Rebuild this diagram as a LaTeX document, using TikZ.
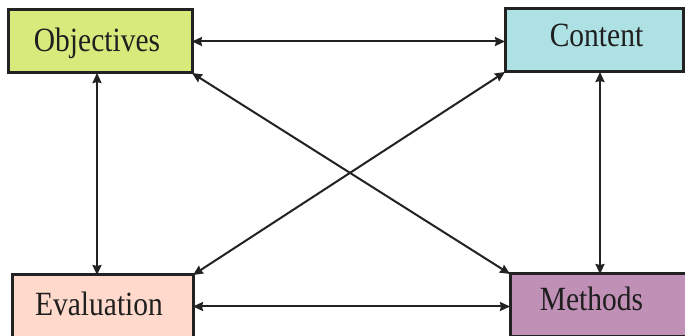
\documentclass[tikz,border=0pt]{standalone}
\usepackage{fontspec}
\setmainfont{Liberation Serif}
\usetikzlibrary{arrows.meta}
\definecolor{cObj}{HTML}{D9EA7C}
\definecolor{cCon}{HTML}{AEE1E3}
\definecolor{cEva}{HTML}{FFDACC}
\definecolor{cMet}{HTML}{C190B7}
\definecolor{cLine}{HTML}{222222}
\tikzset{
  box/.style={draw=cLine, line width=3pt, inner sep=0pt, outer sep=0pt, minimum height=63pt},
  lbl/.style={anchor=base, inner sep=0pt, text=black!88, font=\fontsize{29.5}{30}\selectfont},
  arr/.style={draw=cLine, line width=2pt, {Stealth[length=10pt,width=9pt,inset=1pt]}-{Stealth[length=10pt,width=9pt,inset=1pt]}}
}
\newcommand{\mylbl}[1]{\scalebox{1}[1.15]{#1}}
\begin{document}
\begin{tikzpicture}[x=1pt,y=-1pt]
\fill[white] (0,0) rectangle (685,336);
\clip (0,0) rectangle (685,336);
\node[box, fill=cObj, minimum width=184pt] (obj) at (100,41.5) {};
\node[box, fill=cCon, minimum width=178pt] (con) at (594,40.5) {};
\node[box, fill=cEva, minimum width=181pt] (eva) at (102.5,306.5) {};
\node[box, fill=cMet, minimum width=180pt] (met) at (600,305.5) {};
\node[lbl] (tobj) at (97,52) {\mylbl{Objectives}};
\node[lbl] (tcon) at (596.5,47) {\mylbl{Content}};
\node[lbl] (teva) at (99,316) {\mylbl{Evaluation}};
\node[lbl] (tmet) at (591.5,311) {\mylbl{Methods}};
\draw[arr] (obj.east) -- (obj.east -| con.west);
\draw[arr] (eva.east) -- (eva.east -| met.west);
\draw[arr] ([xshift=-3pt]obj.south) -- ([xshift=-3pt]obj.south |- eva.north);
\draw[arr] (con.south -| met.north) -- (met.north);
\draw[arr] (obj.south east) -- (met.north west);
\draw[arr] (con.south west) -- (eva.north east);
\end{tikzpicture}
\end{document}
